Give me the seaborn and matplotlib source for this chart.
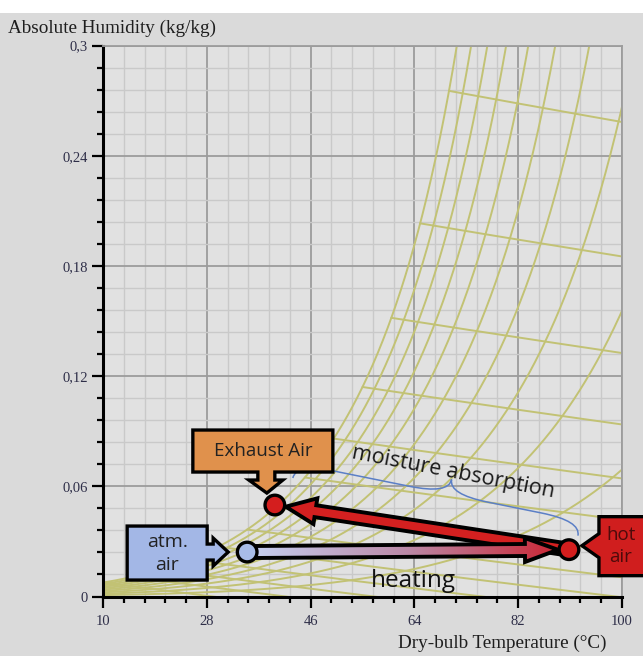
import numpy as np
import pandas as pd
import seaborn as sns
import matplotlib.pyplot as plt
from matplotlib.patches import Polygon, PathPatch, Rectangle
from matplotlib.path import Path
from matplotlib.transforms import IdentityTransform
from matplotlib.ticker import FixedLocator
from matplotlib.colors import LinearSegmentedColormap

# chart data
rh_levels = [10, 20, 30, 40, 50, 60, 70, 80, 90, 100]          # relative humidity curves (%)
wetbulb_levels = [10, 15, 20, 25, 30, 35, 40, 45, 50, 55, 60, 65, 70]  # constant enthalpy lines (°C at saturation)
state_names = ['atm. air', 'hot air', 'Exhaust Air']
state_T = [35.0, 90.8, 39.8]
state_w = [0.0242, 0.0255, 0.0498]
x_ticks = [10, 28, 46, 64, 82, 100]
y_ticks = [0, 0.06, 0.12, 0.18, 0.24, 0.3]
y_tick_labels = ['0', '0,06', '0,12', '0,18', '0,24', '0,3']

P = 101.325


def p_sat(T):
    # Antoine equation for water, kPa
    return 0.133322 * 10 ** (8.07131 - 1730.63 / (233.426 + T))


rows = []
T_grid = np.linspace(10, 100, 721)
for rh in rh_levels:
    pv = rh / 100 * p_sat(T_grid)
    w = 0.622 * pv / (P - pv)
    keep = (pv < 0.97 * P) & (w < 0.36)
    rows.append(pd.DataFrame({'T': T_grid[keep], 'w': w[keep], 'curve': f'rh{rh}'}))
for tw in wetbulb_levels:
    ps = p_sat(tw)
    ws = 0.622 * ps / (P - ps)
    h = 1.006 * tw + ws * (2501 + 1.86 * tw)
    T = np.linspace(tw, 100, 400)
    w = (h - 1.006 * T) / (2501 + 1.86 * T)
    keep = w > -0.004
    rows.append(pd.DataFrame({'T': T[keep], 'w': w[keep], 'curve': f'h{tw}'}))
chart = pd.concat(rows, ignore_index=True)

sns.set_style('ticks')
plt.rcParams['font.family'] = ['Liberation Serif', 'DejaVu Serif']

fig = plt.figure(figsize=(6.43, 6.56), dpi=100, facecolor='#dadada')
fig.add_artist(Rectangle((0, 1 - 13 / 656), 1, 13 / 656, transform=fig.transFigure,
                         facecolor='white', edgecolor='none'))
ax = fig.add_axes([103 / 643, 59.5 / 656, 519 / 643, 551 / 656])
ax.set_facecolor('#e1e1e1')

sns.lineplot(data=chart, x='T', y='w', units='curve', estimator=None, sort=False,
             color='#c2c274', lw=1.4, ax=ax, zorder=2)

ax.set_xlim(10, 100)
ax.set_ylim(0, 0.3)
ax.set_xticks(x_ticks)
ax.set_xticklabels([str(t) for t in x_ticks])
ax.set_yticks(y_ticks)
ax.set_yticklabels(y_tick_labels)
ax.xaxis.set_minor_locator(FixedLocator(np.arange(10, 100.1, 3.6)))
ax.yaxis.set_minor_locator(FixedLocator(np.arange(0, 0.3001, 0.012)))
ax.grid(which='major', color='#9c9c9c', lw=1.3, zorder=0)
ax.grid(which='minor', color='#c9c9c9', lw=1.0, zorder=0)
ax.set_axisbelow(True)
ax.set_xlabel('')
ax.set_ylabel('')
for s in ['left', 'bottom']:
    ax.spines[s].set_color('black')
    ax.spines[s].set_linewidth(2.2)
for s in ['top', 'right']:
    ax.spines[s].set_color('#9c9c9c')
    ax.spines[s].set_linewidth(1.3)
ax.tick_params(which='major', direction='out', length=8, width=1.6, color='black',
               labelsize=10.5, labelcolor='#2e2e48')
ax.tick_params(which='minor', direction='out', length=4.5, width=1.6, color='black')
ax.tick_params(axis='x', which='major', pad=5)
ax.tick_params(axis='y', which='major', pad=3)

fig.text(8 / 643, 1 - 28 / 656, 'Absolute Humidity (kg/kg)', ha='left', va='center',
         fontsize=13.8, color='#1e1e1e')
fig.text(502 / 643, 1 - 643 / 656, 'Dry-bulb Temperature (°C)', ha='center', va='center',
         fontsize=13.8, color='#1e1e1e')

# annotations in pixel space
idt = IdentityTransform()
A, H, E = [ax.transData.transform((t, w)) for t, w in zip(state_T, state_w)]


def shift(p, dx, dy):
    return np.array([p[0] + dx, p[1] - dy])


def arrow_poly(p0, p1, hb, hh, hl):
    d = (p1 - p0) / np.linalg.norm(p1 - p0)
    n = np.array([-d[1], d[0]])
    base = p1 - d * hl
    return [p0 + n * hb, base + n * hb, base + n * hh, p1, base - n * hh, base - n * hb, p0 - n * hb]


# moisture absorption arrow (hot -> exhaust)
d = (E - H) / np.linalg.norm(E - H)
moist = Polygon(arrow_poly(H, E - d * 11, 6, 13, 30), closed=True, transform=idt,
                facecolor='#d42020', edgecolor='black', lw=2.8, zorder=4, clip_on=False)
ax.add_patch(moist)

# heating arrow (atm -> hot) with gradient
d = (H - A) / np.linalg.norm(H - A)
heat_pts = arrow_poly(A, H - d * 11, 6, 12, 33)
heat_clip = Polygon(heat_pts, closed=True, transform=idt, facecolor='none', edgecolor='none')
ax.add_patch(heat_clip)
grad_cmap = LinearSegmentedColormap.from_list('heat', ['#c6d2f3', '#bb88a6', '#cc1f2c'])
im = ax.imshow(np.linspace(0, 1, 256)[None, :], cmap=grad_cmap, aspect='auto',
               extent=(state_T[0], state_T[1], state_w[0] - 0.012, state_w[1] + 0.012),
               interpolation='bicubic', zorder=5)
im.set_clip_path(heat_clip)
ax.add_patch(Polygon(heat_pts, closed=True, transform=idt, facecolor='none',
                     edgecolor='black', lw=2.8, zorder=5.5, clip_on=False))
ax.set_xlim(10, 100)
ax.set_ylim(0, 0.3)

# state points
sns.scatterplot(x=state_T, y=state_w, hue=state_names,
                palette={'atm. air': '#a8bce8', 'hot air': '#d41e1e', 'Exhaust Air': '#d41e1e'},
                s=200, edgecolor='black', linewidth=2.4, zorder=6, legend=False, ax=ax, clip_on=False)


def callout(c, offs, fc, zorder=7):
    pts = [shift(c, dx, dy) for dx, dy in offs]
    ax.add_patch(Polygon(pts, closed=True, transform=idt, facecolor=fc, edgecolor='black',
                         lw=2.4, zorder=zorder, clip_on=False))


callout(E, [(-82, -75), (58, -75), (58, -33), (0, -33), (0, -25), (8, -25), (-8, -12),
            (-26, -25), (-17, -25), (-17, -33), (-82, -33)], '#e0914c')
callout(A, [(-120, -26), (-40, -26), (-40, -8), (-34, -8), (-34, -14), (-19, 0), (-34, 14),
            (-34, 8), (-40, 8), (-40, 28), (-120, 28)], '#a3b7e6')
callout(H, [(30, -33), (90, -33), (90, 26), (30, 26), (30, 8), (13, -4), (30, -16)], '#d01e1e')

sans = ['Open Sans', 'DejaVu Sans']
p = shift(E, -12, -54)
ax.text(p[0], p[1], 'Exhaust Air', transform=idt, ha='center', va='center', fontsize=13.5,
        family=sans, color='#222222', zorder=8)
p = shift(A, -80, 1)
ax.text(p[0], p[1], 'atm.\nair', transform=idt, ha='center', va='center', fontsize=14,
        family=sans, color='#222222', linespacing=1.35, zorder=8)
p = shift(H, 52, -4)
ax.text(p[0], p[1], 'hot\nair', transform=idt, ha='center', va='center', fontsize=13.5,
        family=sans, color='#4d0b0b', linespacing=1.3, zorder=8)

# brace above the moisture arrow
L = shift(E, 18, -27)
R = shift(H, 9, -14)
Lc = np.linalg.norm(R - L)
d = (R - L) / Lc
n = np.array([-d[1], d[0]])
sm, h, q = 0.536 * Lc, 15, 40
local = [(0, 0), (0, h), (q, h), (sm - q, h), (sm, h), (sm, 2 * h), (sm, h), (sm + q, h),
         (Lc - q, h), (Lc, h), (Lc, 0)]
codes = [Path.MOVETO, Path.CURVE3, Path.CURVE3, Path.LINETO, Path.CURVE3, Path.CURVE3,
         Path.CURVE3, Path.CURVE3, Path.LINETO, Path.CURVE3, Path.CURVE3]
verts = [L + s_ * d + v_ * n for s_, v_ in local]
ax.add_patch(PathPatch(Path(verts, codes), transform=idt, facecolor='none',
                       edgecolor='#5b7fc6', lw=1.1, zorder=3.5, clip_on=False))
cusp = L + sm * d + 2 * h * n + 2 * n
ax.text(cusp[0], cusp[1], 'moisture absorption', transform=idt, rotation=-11,
        rotation_mode='anchor', ha='center', va='baseline', fontsize=15.5, family=sans,
        color='#1a1a1a', zorder=8)

mid = (A + H) / 2
p = shift(mid, 5, 36)
ax.text(p[0], p[1], 'heating', transform=idt, ha='center', va='baseline', fontsize=17.5,
        family=sans, color='#111111', zorder=8)

fig.savefig('out.png', dpi=100, facecolor=fig.get_facecolor())
